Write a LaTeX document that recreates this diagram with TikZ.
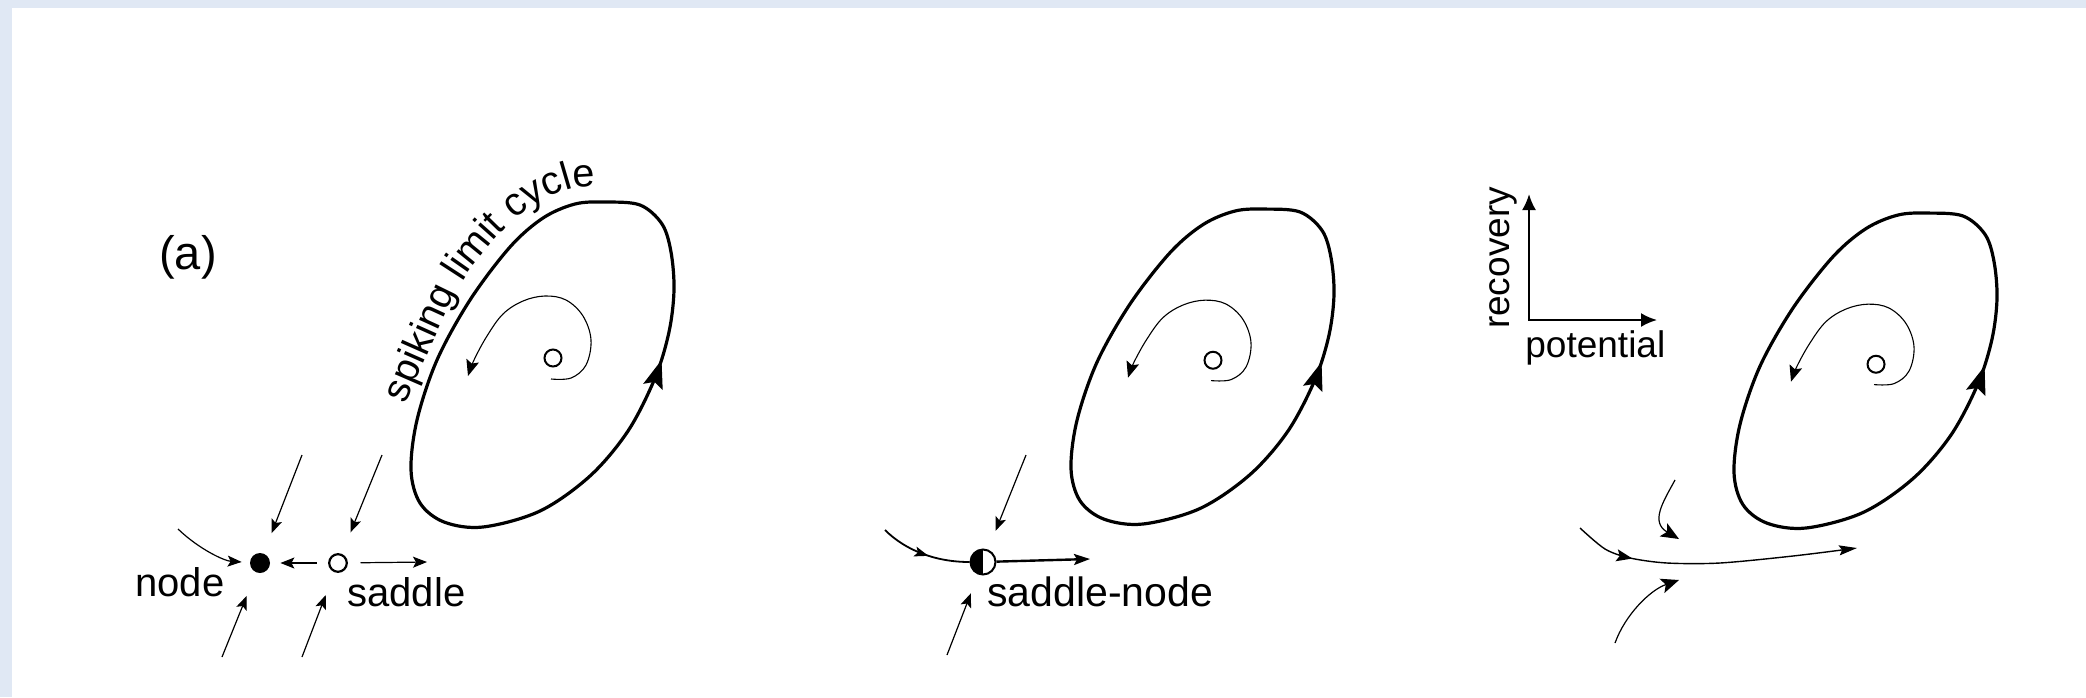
\documentclass[tikz,border=0pt]{standalone}
\usepackage{fontspec}
\setmainfont{Liberation Sans}
\usetikzlibrary{arrows.meta,decorations.markings,decorations.text}
\definecolor{bgblue}{RGB}{224,232,244}
\tikzset{
  lbl/.style={font=\fontsize{20}{24}\selectfont, inner sep=0pt},
  axlbl/.style={font=\fontsize{18.5}{22}\selectfont, inner sep=0pt},
  thinarr/.style={line width=0.6pt, -{Stealth[length=7pt,width=5.5pt,inset=1.5pt]}},
  hookarr/.style={line width=0.6pt, -{Stealth[length=9pt,width=7.5pt,inset=2pt]}},
  limitcyc/.style={line width=1.6pt, postaction={decorate},
    decoration={markings, mark=at position 0.215 with {\arrow{Stealth[length=14pt,width=10pt,inset=2.5pt]}}}},
  spiralarr/.style={line width=0.55pt, -{Stealth[length=8pt,width=6.5pt,inset=1.5pt]}},
  eq/.style={circle, draw, line width=1pt, minimum size=8.5pt, inner sep=0pt},
  axisarr/.style={line width=1.1pt, {Latex[length=8pt,width=7pt]}-{Latex[length=8pt,width=7pt]}},
}
\newcommand{\mycyc}[1]{%
  \draw[limitcyc] plot[smooth cycle, tension=0.55] coordinates {(483,527) (540,511) (590,476) (628,431) (655,378) (669,332) (674,290) (671,252) (662,224) (640,205) (605,202) (575,204) (543,218) (510,247) (470,300) (437,360) (417,420) (411,470) (420,503) (444,522)};
  \node[eq] (#1) at (553,358) {};
  \draw[spiralarr] plot[smooth, tension=0.6] coordinates {(551,379) (571,378) (586,365) (591,340) (583,316) (566,300) (545,296) (523,301) (503,314) (487,336) (474,360) (468,376)};
}
\begin{document}
\begin{tikzpicture}[x=0.5pt,y=-0.5pt]
\fill[bgblue] (0,0) rectangle (2086,697);
\fill[white] (12,8) rectangle (2086,697);
\useasboundingbox (0,0) rectangle (2086,697);

% ---------- panel 1 ----------
\node[lbl, font=\fontsize{23.5}{26}\selectfont, anchor=base] (lab) at (188,269) {(a)};
\mycyc{f1}
\path[decorate, decoration={text along path, text={|\fontsize{19.8}{22}\selectfont|spiking limit cycle}, text align=left}]
  plot[smooth] coordinates {(406,404) (457,291) (498,236) (534,205) (571,188.5) (605,186) (670,186)};

\node[circle, fill, minimum size=10pt, inner sep=0pt] (N1) at (260,563) {};
\node[eq, minimum size=8.8pt, line width=1.1pt] (S1) at (338,563) {};
\draw[thinarr, shorten <=5.8pt, shorten >=5pt] (S1) -- (N1);
\coordinate (S1r) at (427,562);
\draw[thinarr, shorten <=6.3pt] (S1) -- (S1r);
\coordinate (c1) at (178,529);
\draw[thinarr, shorten >=4pt] (c1) .. controls (200,550) and (225,561) .. (N1);
\coordinate (t1) at (302,455);
\draw[thinarr, shorten >=10.8pt] (t1) -- (N1);
\coordinate (t1s) at (382,455);
\draw[thinarr, shorten >=11.6pt] (t1s) -- (S1);
\coordinate (b1) at (222,657);
\draw[thinarr, shorten >=12.5pt] (b1) -- (N1);
\coordinate (b1s) at (302,657);
\draw[thinarr, shorten >=12.2pt] (b1s) -- (S1);
\node[lbl, anchor=base] (nodelbl) at (180,596) {node};
\node[lbl, anchor=base west] (sadlbl) at (347,606) {saddle};

% ---------- panel 2 ----------
\begin{scope}[shift={(660,524)}, yscale=0.969, shift={(0,-527)}]
  \mycyc{f2}
\end{scope}
\node[eq, minimum size=12.5pt, line width=1pt,
  path picture={\fill[black] (path picture bounding box.north west) rectangle (path picture bounding box.south);}] (SN) at (983,562) {};
\coordinate (c2) at (885,530);
\draw[line width=0.9pt, postaction={decorate},
  decoration={markings, mark=at position 0.55 with {\arrow{Stealth[length=7pt,width=5pt,inset=1.5pt]}}}]
  (c2) .. controls (905,550) and (935,562) .. (SN);
\coordinate (o2) at (1090,559);
\draw[line width=1.2pt, -{Stealth[length=8pt,width=5.5pt,inset=1.5pt]}] (SN) -- (o2);
\coordinate (t2) at (1026,455);
\draw[thinarr, shorten >=10pt] (t2) -- (SN);
\coordinate (b2) at (947,655);
\draw[thinarr, shorten >=10pt] (b2) -- (SN);
\node[lbl, font=\fontsize{20.5}{24}\selectfont, anchor=base west] (snlbl) at (987,606) {saddle-node};

% ---------- panel 3 ----------
\begin{scope}[shift={(1323,528)}, yscale=0.969, shift={(0,-527)}]
  \mycyc{f3}
\end{scope}
\coordinate (ax0) at (1529,320);
\coordinate (axu) at (1529,194);
\coordinate (axr) at (1657,320);
\draw[axisarr] (axu) -- (ax0) -- (axr);
\node[axlbl, rotate=90, anchor=base] (rec) at (1509,258) {recovery};
\node[axlbl, anchor=base west] (pot) at (1525,357) {potential};

\draw[line width=0.7pt, -{Stealth[length=9pt,width=5pt,inset=1.5pt]}, postaction={decorate},
  decoration={markings, mark=at position 0.215 with {\arrow{Stealth[length=8pt,width=6pt,inset=1.5pt]}}}]
  plot[smooth] coordinates {(1580,528) (1605,549) (1630,558) (1667,563) (1720,563) (1793,556) (1857,548)};
\coordinate (h0) at (1675,480);
\coordinate (h1) at (1679,539);
\draw[hookarr] (h0) .. controls (1663,502) and (1650,522) .. (h1);
\coordinate (l0) at (1615,643);
\coordinate (l1) at (1679,580);
\draw[hookarr] (l0) .. controls (1625,615) and (1650,590) .. (l1);
\end{tikzpicture}
\end{document}
